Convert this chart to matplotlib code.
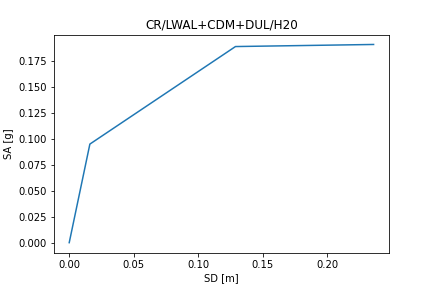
import matplotlib
matplotlib.use("Agg")
import matplotlib.pyplot as plt

sd = [0.0, 0.016, 0.1288, 0.2358]
sa = [0.0, 0.0947, 0.1884, 0.1904]

fig, ax = plt.subplots(figsize=(6, 4), dpi=72)
fig.subplots_adjust(bottom=0.123)
ax.plot(sd, sa)
ax.set_title("CR/LWAL+CDM+DUL/H20")
ax.set_xlabel("SD [m]")
ax.set_ylabel("SA [g]")
fig.savefig("out.png", dpi=72)
